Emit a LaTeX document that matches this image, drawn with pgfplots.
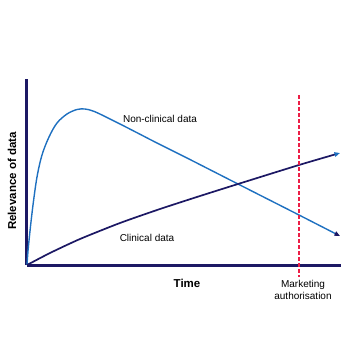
\documentclass[border=0pt]{standalone}
\usepackage{pgfplots}
\pgfplotsset{compat=1.18}
\usetikzlibrary{arrows.meta}
\usepackage{fontspec}
\setmainfont{Liberation Sans}
\definecolor{navy}{RGB}{28,24,100}
\definecolor{lblue}{RGB}{30,112,192}
\definecolor{mred}{RGB}{236,30,70}
\begin{document}
\begin{tikzpicture}
\useasboundingbox (-27pt,-76pt) rectangle (314pt,265pt);
\begin{axis}[
  anchor=south west, at={(0pt,0pt)},
  scale only axis, width=314pt, height=186pt,
  xmin=0, xmax=314, ymin=0, ymax=186,
  axis lines*=left,
  axis line style={line width=3pt, color=navy},
  xtick=\empty, ytick=\empty,
  clip=false,
]
\addplot[lblue, line width=1.4pt, smooth, tension=0.55,
  -{Triangle[length=5.5pt,width=4.5pt,color=navy,fill=navy]}] coordinates {
  (0,0) (1,14) (3,34) (6,60) (10,88) (15,110) (22,128) (30,142) (40,151)
  (50,155.5) (58,156) (66,154) (75,150) (85,145) (95,140) (110,132.3)
  (130,122) (160,107) (211,81) (272,50) (313,29)};
\addplot[navy, line width=1.7pt, smooth, tension=0.4,
  -{Triangle[length=5.5pt,width=4.5pt,color=lblue,fill=lblue]}] coordinates {
  (0,0) (23,12) (53,26) (93,42) (133,56) (173,69) (211,81) (272,100) (313,112)};
\addplot[mred, line width=2.4pt, dash pattern=on 4pt off 2pt] coordinates {(272,170) (272,-12)};
\node[font=\fontsize{10}{12}\selectfont] at (axis cs:133,146) {Non-clinical data};
\node[font=\fontsize{10}{12}\selectfont] at (axis cs:120,27) {Clinical data};
\node[font=\fontsize{10}{12}\selectfont, align=center] at (axis cs:276,-25) {Marketing\\authorisation};
\node[font=\fontsize{11.5}{13}\selectfont\bfseries] at (axis cs:160,-18) {Time};
\node[font=\fontsize{11.5}{13}\selectfont\bfseries, rotate=90] at (axis cs:-15,84) {Relevance of data};
\end{axis}
\end{tikzpicture}
\end{document}
